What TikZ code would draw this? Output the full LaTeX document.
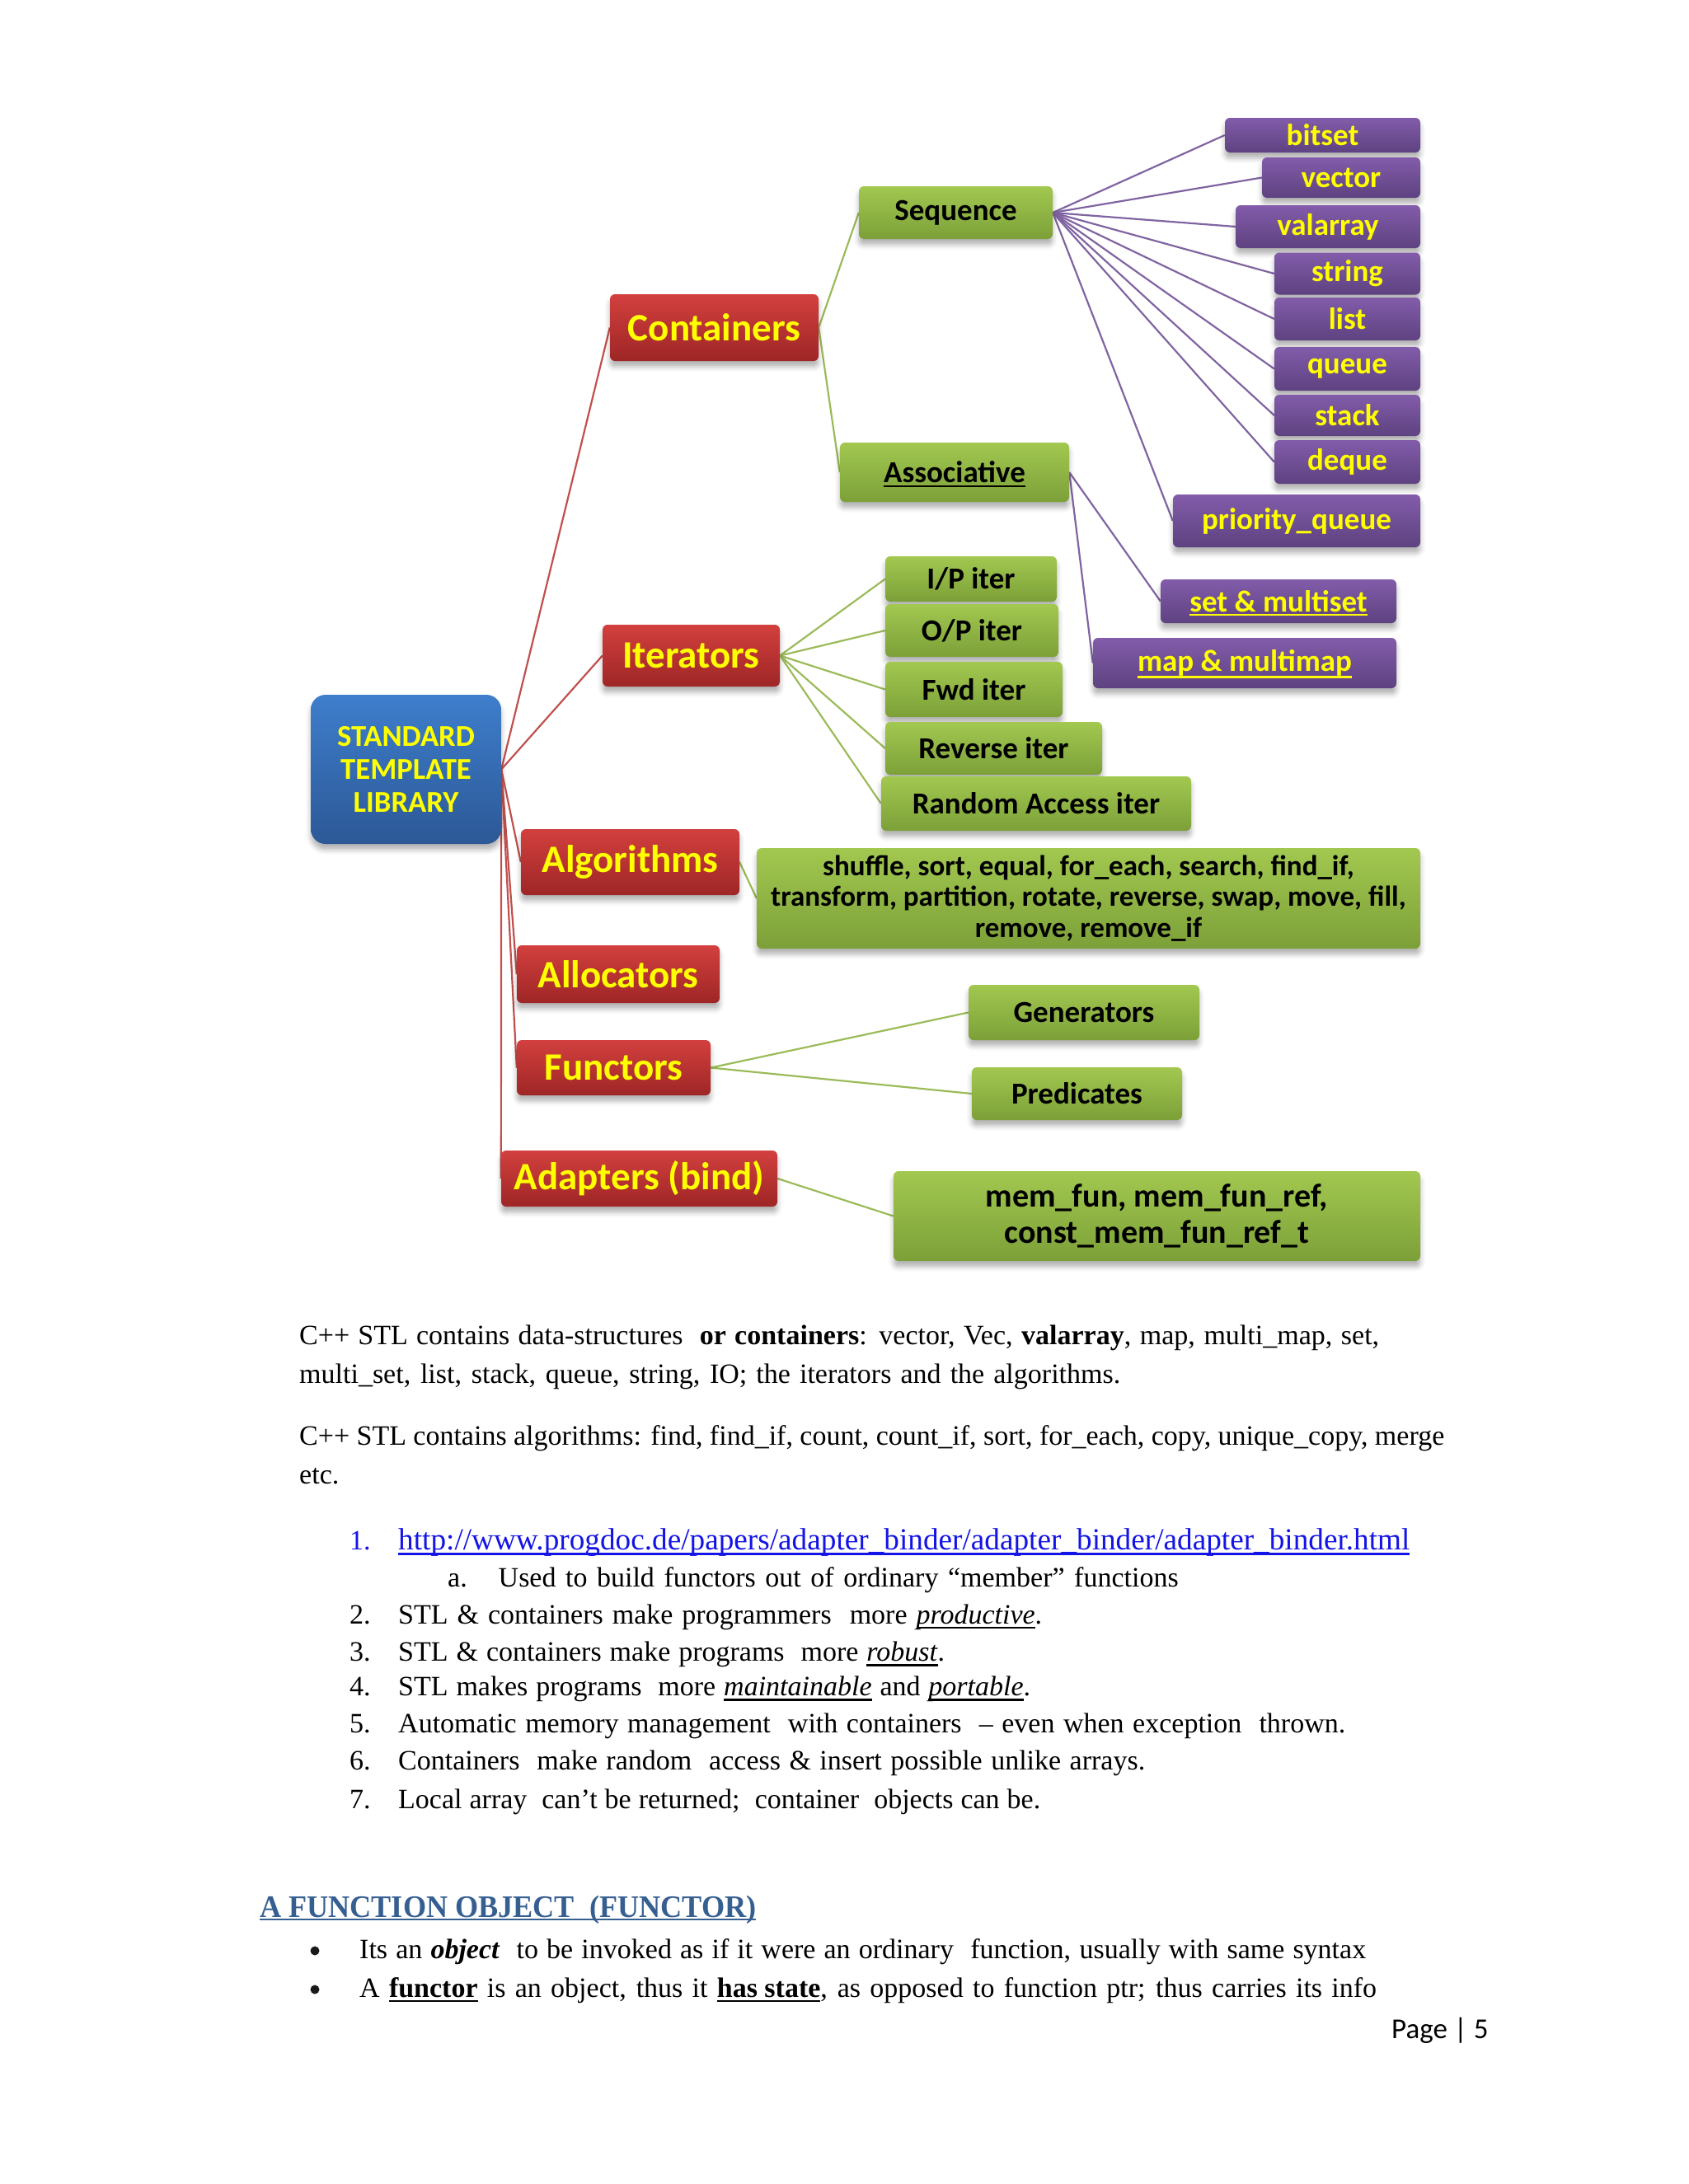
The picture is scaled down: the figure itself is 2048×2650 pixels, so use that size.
\documentclass[tikz,border=0pt]{standalone}
\usepackage{fontspec}
\setmainfont{Liberation Serif}
\newfontfamily\lblfont{Carlito}
\newcommand\myul[2][6pt]{\setbox0\hbox{#2}\rlap{\smash{\rule[-#1]{\wd0}{2.2pt}}}\box0\relax}
\newcommand\fitw[2]{\makebox[#1][s]{#2}}
\usepackage{graphicx}
\usetikzlibrary{shadows.blur}
\pgfdeclarelayer{bg}
\pgfsetlayers{bg,main}
\definecolor{redT}{RGB}{210,64,62}
\definecolor{redB}{RGB}{158,38,38}
\definecolor{bluT}{RGB}{62,126,204}
\definecolor{bluB}{RGB}{44,88,150}
\definecolor{grnT}{RGB}{162,200,80}
\definecolor{grnB}{RGB}{124,160,56}
\definecolor{purT}{RGB}{130,92,170}
\definecolor{purB}{RGB}{94,66,128}
\definecolor{redL}{RGB}{192,80,77}
\definecolor{grnL}{RGB}{155,187,89}
\definecolor{purL}{RGB}{128,100,162}
\definecolor{yel}{RGB}{255,255,0}
\definecolor{linkblue}{RGB}{20,20,230}
\definecolor{headblue}{RGB}{54,95,145}
\tikzset{
  box/.style={rounded corners=6pt, inner sep=0pt,
    blur shadow={shadow xshift=0pt,shadow yshift=-7pt,shadow blur radius=6pt,shadow opacity=30}},
  bluebox/.style={box, rounded corners=18pt, top color=bluT, bottom color=bluB, text=yel, align=center,
    font=\lblfont\bfseries\fontsize{36.7}{40}\selectfont},
  redbox/.style={box, top color=redT, bottom color=redB, text=yel,
    font=\lblfont\bfseries\fontsize{47}{50}\selectfont},
  grnbox/.style={box, top color=grnT, bottom color=grnB, text=black, align=center,
    font=\lblfont\bfseries\fontsize{37}{40}\selectfont},
  purbox/.style={box, top color=purT, bottom color=purB, text=yel,
    font=\lblfont\bfseries\fontsize{37}{40}\selectfont},
  redline/.style={draw=redL, line width=2.2pt},
  grnline/.style={draw=grnL, line width=2.2pt},
  purline/.style={draw=purL, line width=2.2pt},
  txt/.style={anchor=base west, inner sep=0pt, font=\fontsize{34}{40}\selectfont},
  bul/.style={circle, fill=black!90, inner sep=0pt, minimum size=11pt},
}
\begin{document}
\begin{tikzpicture}[x=1pt,y=-1pt]
\useasboundingbox (0,0) rectangle (2048,2650);
% root and level 1
\node[bluebox, minimum width=231pt, minimum height=181pt] (stl) at (492.5,933.5) {STANDARD\\TEMPLATE\\LIBRARY};
\node[redbox, minimum width=253pt, minimum height=81pt] (cont) at (866.5,397.5) {Containers};
\node[redbox, minimum width=215pt, minimum height=75pt] (iter) at (838.5,795.5) {Iterators};
\node[redbox, minimum width=265pt, minimum height=80pt] (algo) at (764.5,1046) {Algorithms};
\node[redbox, minimum width=246pt, minimum height=70pt] (alloc) at (750,1182) {Allocators};
\node[redbox, minimum width=235pt, minimum height=67pt] (func) at (744.5,1295.5) {Functors};
\node[redbox, minimum width=335pt, minimum height=68pt] (adapt) at (775.5,1430) {Adapters (bind)};
% containers
\node[grnbox, minimum width=235pt, minimum height=64pt] (seq) at (1159.5,258) {Sequence};
\node[grnbox, minimum width=278pt, minimum height=72pt] (assoc) at (1158,573) {\myul[5pt]{Associative}};
\node[purbox, minimum width=237pt, minimum height=42pt] (bitset) at (1604.5,164) {bitset};
\node[purbox, minimum width=192pt, minimum height=49pt] (vector) at (1627,215.5) {vector};
\node[purbox, minimum width=224pt, minimum height=52pt] (valarray) at (1611,275) {valarray};
\node[purbox, minimum width=177pt, minimum height=51pt] (string) at (1634.5,332) {string};
\node[purbox, minimum width=177pt, minimum height=52pt] (list) at (1634.5,387) {list};
\node[purbox, minimum width=177pt, minimum height=53pt] (queue) at (1634.5,447.5) {queue};
\node[purbox, minimum width=177pt, minimum height=50pt] (stack) at (1634.5,504) {stack};
\node[purbox, minimum width=177pt, minimum height=53pt] (deque) at (1634.5,560.5) {deque};
\node[purbox, minimum width=300pt, minimum height=64pt] (pq) at (1573,632) {priority\_queue};
\node[purbox, minimum width=286pt, minimum height=53pt] (setm) at (1551,729.5) {\myul[5pt]{set \& multiset}};
\node[purbox, minimum width=368pt, minimum height=61pt] (mapm) at (1510,804.5) {\myul[8pt]{map \& multimap}};
% iterators
\node[grnbox, minimum width=208pt, minimum height=55pt] (ip) at (1178,702.5) {I/P iter};
\node[grnbox, minimum width=210pt, minimum height=64pt] (op) at (1179,765) {O/P iter};
\node[grnbox, minimum width=215pt, minimum height=67pt] (fwd) at (1181.5,836.5) {Fwd iter};
\node[grnbox, minimum width=263pt, minimum height=64pt] (rev) at (1205.5,908) {Reverse iter};
\node[grnbox, minimum width=376pt, minimum height=66pt] (ra) at (1257,975) {Random Access iter};
% algorithms, functors, adapters
\node[grnbox, minimum width=805pt, minimum height=122pt, font=\lblfont\bfseries\fontsize{35}{37.5}\selectfont] (alist) at (1320.5,1090)
  {shuffle, sort, equal, for\_each, search, find\_if,\\transform, partition, rotate, reverse, swap, move, fill,\\remove, remove\_if};
\node[grnbox, minimum width=280pt, minimum height=67pt] (gen) at (1315,1228.5) {Generators};
\node[grnbox, minimum width=255pt, minimum height=64pt] (pred) at (1306.5,1327) {Predicates};
\node[grnbox, minimum width=639pt, minimum height=109pt, font=\lblfont\bfseries\fontsize{40}{44.6}\selectfont] (memf) at (1403.5,1475.5)
  {mem\_fun, mem\_fun\_ref,\\const\_mem\_fun\_ref\_t};
% connectors
\begin{pgfonlayer}{bg}
\foreach \c in {cont,iter,algo,alloc,func,adapt} \draw[redline] (stl.east) -- (\c.west);
\draw[grnline] (cont.east) -- (seq.west);
\draw[grnline] (cont.east) -- (assoc.west);
\foreach \c in {bitset,vector,valarray,string,list,queue,stack,deque,pq} \draw[purline] (seq.east) -- (\c.west);
\draw[purline] (assoc.east) -- (setm.west);
\draw[purline] (assoc.east) -- (mapm.west);
\foreach \c in {ip,op,fwd,rev,ra} \draw[grnline] (iter.east) -- (\c.west);
\draw[grnline] (algo.east) -- (alist.west);
\draw[grnline] (func.east) -- (gen.west);
\draw[grnline] (func.east) -- (pred.west);
\draw[grnline] (adapt.east) -- (memf.west);
\end{pgfonlayer}
% text
\node[txt] (p1a) at (363,1631) {\fitw{1310pt}{C++ STL contains data-structures \ \textbf{or containers}: vector, Vec, \textbf{valarray}, map, multi\_map, set,}};
\node[txt] (p1b) at (363,1678) {\fitw{996pt}{multi\_set, list, stack, queue, string, IO; the iterators and the algorithms.}};
\node[txt] (p2a) at (363,1753.5) {\fitw{1389pt}{C++ STL contains algorithms: find, find\_if, count, count\_if, sort, for\_each, copy, unique\_copy, merge}};
\node[txt] (p2b) at (363,1800) {etc.};
\node[txt, text=linkblue] (n1) at (424,1880) {1.};
\node[txt, text=linkblue] (t1) at (483,1880) {\resizebox{1227pt}{!}{\myul{http://www.progdoc.de/papers/adapter\_binder/adapter\_binder/adapter\_binder.html}}};
\node[txt] (na) at (543,1925) {a.};
\node[txt] (ta) at (604.5,1925) {\fitw{825pt}{Used to build functors out of ordinary “member” functions}};
\node[txt] (n2) at (424,1970) {2.};
\node[txt] (t2) at (483,1970) {\fitw{781pt}{STL \& containers make programmers \ more \myul{\textit{productive}}.}};
\node[txt] (n3) at (424,2015.5) {3.};
\node[txt] (t3) at (483,2015.5) {\fitw{663pt}{STL \& containers make programs \ more \myul{\textit{robust}}.}};
\node[txt] (n4) at (424,2057.5) {4.};
\node[txt] (t4) at (483,2057.5) {\fitw{767pt}{STL makes programs \ more \myul{\textit{maintainable}} and \myul{\textit{portable}}.}};
\node[txt] (n5) at (424,2102) {5.};
\node[txt] (t5) at (483,2102) {\fitw{1149pt}{Automatic memory management \ with containers \ – even when exception \ thrown.}};
\node[txt] (n6) at (424,2147) {6.};
\node[txt] (t6) at (483,2147) {\fitw{906pt}{Containers \ make random \ access \& insert possible unlike arrays.}};
\node[txt] (n7) at (424,2194) {7.};
\node[txt] (t7) at (483,2194) {\fitw{779pt}{Local array \ can’t be returned; \ container \ objects can be.}};
\node[txt, text=headblue, font=\bfseries\fontsize{38}{44}\selectfont] (head) at (315,2326) {\scalebox{0.952}[1]{\myul[4pt]{A FUNCTION OBJECT \ (FUNCTOR)}}};
\node[bul] (bu1) at (382,2367) {};
\node[txt] (b1) at (436,2376) {\fitw{1221pt}{Its an \textbf{\textit{object}} \ to be invoked as if it were an ordinary \ function, usually with same syntax}};
\node[bul] (bu2) at (382,2414) {};
\node[txt] (b2) at (436,2423) {\fitw{1234pt}{A \myul{\textbf{functor}} is an object, thus it \myul{\textbf{has state}}, as opposed to function ptr; thus carries its info}};
\node[txt, font=\lblfont\fontsize{35}{40}\selectfont] (pg) at (1688,2473) {Page | 5};
\end{tikzpicture}
\end{document}
